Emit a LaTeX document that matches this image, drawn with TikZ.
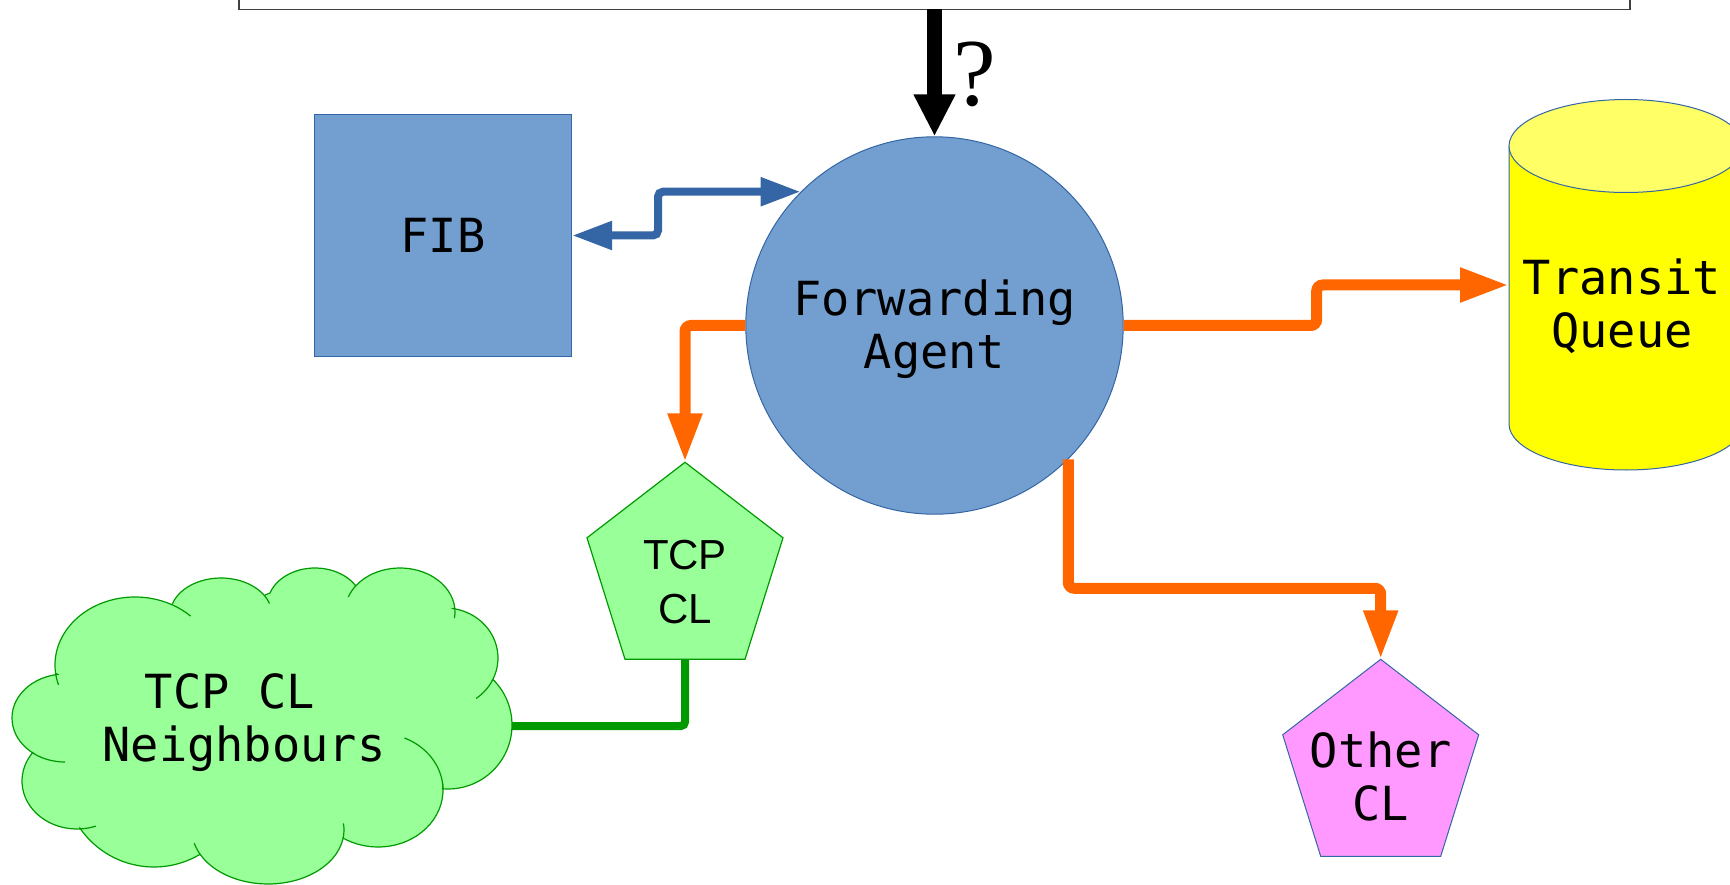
\documentclass[tikz,border=0pt]{standalone}
\usepackage{fontspec}
\newfontfamily\dmono{DejaVu Sans Mono}
\newfontfamily\lsans{Liberation Sans}
\newfontfamily\lserif{Liberation Serif}
\usetikzlibrary{arrows.meta,calc}
\definecolor{skyb}{HTML}{729FCF}
\definecolor{darkb}{HTML}{3465A4}
\definecolor{orng}{HTML}{FF6600}
\definecolor{grn}{HTML}{009900}
\definecolor{lgrn}{HTML}{99FF99}
\definecolor{lpink}{HTML}{FF99FF}
\definecolor{ylw}{HTML}{FFFF00}
\definecolor{lylw}{HTML}{FFFF66}
\begin{document}
\begin{tikzpicture}[x=1pt,y=-1pt,
  monotxt/.style={font=\dmono\fontsize{47}{53}\selectfont, align=center, inner sep=0pt},
  sanstxt/.style={font=\lsans\fontsize{42}{54}\selectfont, align=center, inner sep=0pt},
  ghost/.style={inner sep=0pt, outer sep=0pt},
  orangearrow/.style={draw=orng, line width=11pt, rounded corners=6pt, -{Triangle[length=49pt,width=32pt]}},
  bluearrow/.style={draw=darkb, line width=8pt, rounded corners=5pt, {Triangle[length=40pt,width=27pt]}-{Triangle[length=40pt,width=27pt]}},
  greenline/.style={draw=grn, line width=8pt, rounded corners=4pt},
  blackarrow/.style={draw=black, line width=15.6pt, -{Triangle[length=42pt,width=39pt]}},
  cloudline/.style={draw=grn, line width=1.2pt},
]
\useasboundingbox (0,0) rectangle (1730,885);
\clip (0,0) rectangle (1730,885);

% top box
\node[ghost, draw=black!75, line width=1.5pt, minimum width=1391pt, minimum height=120pt] (topbox) at (934.5,-50.7) {};
\node[font=\lserif\fontsize{96}{96}\selectfont, inner sep=0pt] (qmark) at (975,74) {?};

% FIB
\node[monotxt, fill=skyb, draw=darkb, line width=1pt, minimum width=257pt, minimum height=241.7pt] (fib) at (443,235.5) {FIB};

% Forwarding agent
\node[circle, fill=skyb, draw=darkb, line width=1pt, minimum size=377.4pt, inner sep=0pt] (fa) at (934.5,325.5) {};
\node[monotxt, anchor=base] (fatxt) at (934.5,368.5) {Forwarding\\Agent};

% Transit queue (cylinder)
\node[ghost, minimum width=234pt, minimum height=278pt] (tq) at (1626,285) {};
\draw[draw=darkb, fill=ylw, line width=1pt] (tq.north west) -- (tq.south west)
  arc[start angle=180, end angle=0, x radius=117, y radius=46] -- (tq.north east) -- cycle;
\draw[draw=darkb, fill=lylw, line width=1pt] (tq.north) ellipse[x radius=117, y radius=46.5];
\node[monotxt, anchor=base] (tqtxt) at (1622,348) {Transit\\Queue};

% TCP CL pentagon
\node[ghost, minimum width=196pt, minimum height=197pt] (tcp) at (685,560.8) {};
\draw[draw=grn, fill=lgrn, line width=1.2pt] (tcp.north) -- ($(tcp.north)+(98,75.5)$) -- ($(tcp.north)+(60,197)$)
  -- ($(tcp.north)+(-60,197)$) -- ($(tcp.north)+(-98,75.5)$) -- cycle;
\node[sanstxt, anchor=base] (tcptxt) at (685,623) {TCP\\CL};

% Other CL pentagon
\node[ghost, minimum width=196pt, minimum height=197pt] (other) at (1380.7,757.8) {};
\draw[draw=darkb, fill=lpink, line width=1pt] (other.north) -- ($(other.north)+(98,75.5)$) -- ($(other.north)+(60,197)$)
  -- ($(other.north)+(-60,197)$) -- ($(other.north)+(-98,75.5)$) -- cycle;
\node[monotxt, anchor=base] (othertxt) at (1380.7,820) {Other\\CL};

% Cloud
\node[ghost, minimum width=500pt, minimum height=316pt] (tcpn) at (262,726) {};
\draw[cloudline, fill=lgrn]
 ($(65,718)+(124.5:53 and 44)$) arc[start angle=124.5,end angle=262,x radius=53,y radius=44]
 -- ($(135,665)+(173:80 and 68)$) arc[start angle=173,end angle=298,x radius=80,y radius=68]
 -- ($(221,615)+(196:51 and 37)$) arc[start angle=196,end angle=328,x radius=51,y radius=37]
 -- ($(315,605)+(199:47.6 and 37)$) arc[start angle=199,end angle=327,x radius=47.6,y radius=37]
 -- ($(400,612)+(217:55 and 44)$) arc[start angle=217,end angle=355,x radius=55,y radius=44]
 -- ($(445,658)+(279:53 and 50)$) arc[start angle=279,end angle=386,x radius=53,y radius=50]
 -- ($(448,725)+(315:64 and 64)$) arc[start angle=315,end angle=455,x radius=64,y radius=64]
 -- ($(378,790)+(-3:65 and 57)$) arc[start angle=-3,end angle=123,x radius=65,y radius=57]
 -- ($(268,830)+(8.5:76 and 54)$) arc[start angle=8.5,end angle=152.6,x radius=76,y radius=54]
 -- ($(154,777)+(59.5:90 and 90)$) arc[start angle=59.5,end angle=145.4,x radius=90,y radius=90]
 -- ($(77,781)+(87:55 and 48)$) arc[start angle=87,end angle=216.4,x radius=55,y radius=48]
 -- cycle;
\draw[cloudline] ($(135,665)+(163:80 and 68)$) arc[start angle=163,end angle=173,x radius=80,y radius=68];
\draw[cloudline] ($(135,665)+(298:80 and 68)$) arc[start angle=298,end angle=314,x radius=80,y radius=68];
\draw[cloudline] ($(221,615)+(328:51 and 37)$) arc[start angle=328,end angle=342,x radius=51,y radius=37];
\draw[cloudline] ($(400,612)+(200:55 and 44)$) arc[start angle=200,end angle=217,x radius=55,y radius=44];
\draw[cloudline] ($(400,612)+(355:55 and 44)$) arc[start angle=355,end angle=368,x radius=55,y radius=44];
\draw[cloudline] ($(445,658)+(26:53 and 50)$) arc[start angle=26,end angle=54,x radius=53,y radius=50];
\draw[cloudline] ($(378,790)+(-66:65 and 57)$) arc[start angle=-66,end angle=-3,x radius=65,y radius=57];
\draw[cloudline] ($(268,830)+(-7:76 and 54)$) arc[start angle=-7,end angle=8.5,x radius=76,y radius=54];
\draw[cloudline] ($(268,830)+(152.6:76 and 54)$) arc[start angle=152.6,end angle=166,x radius=76,y radius=54];
\draw[cloudline] ($(77,781)+(70:55 and 48)$) arc[start angle=70,end angle=87,x radius=55,y radius=48];
\draw[cloudline] ($(65,718)+(90:53 and 44)$) arc[start angle=90,end angle=124.5,x radius=53,y radius=44];
\node[monotxt, anchor=base] (tcpntxt) at (244,761) {TCP CL\hphantom{x}\\Neighbours};

% connectors
\draw[blackarrow] (topbox.south) -- (fa.north);
\draw[bluearrow] (fib.east) -- ++(86,0) |- (fa.135);
\draw[orangearrow] (fa.west) -| (tcp.north);
\draw[orangearrow] (fa.east) -- ++(193,0) |- (tq.west);
\draw[orangearrow] (fa.south east) -- ++(0,129) -| (other.north);
\draw[greenline] (tcpn.east) -| (tcp.south);
\end{tikzpicture}
\end{document}
